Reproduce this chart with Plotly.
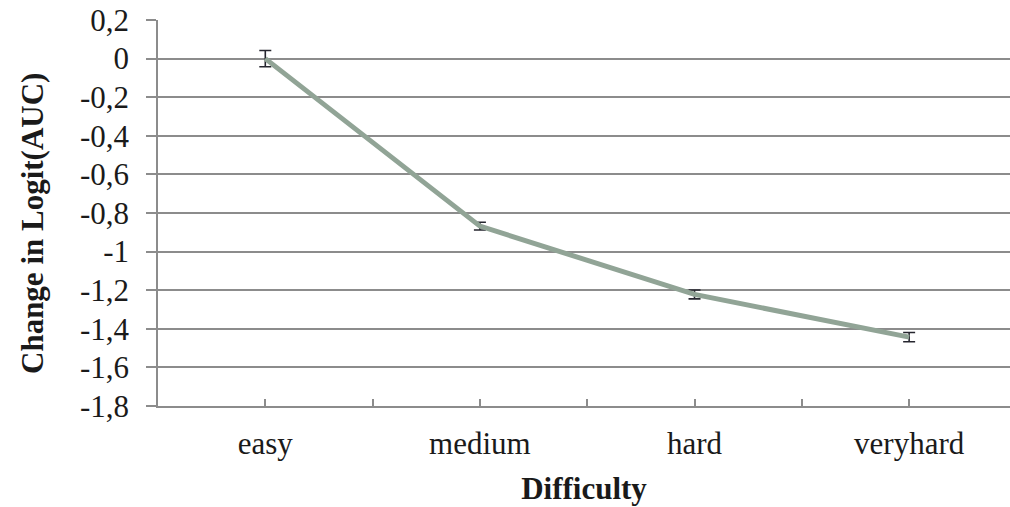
import plotly.graph_objects as go

categories = ["easy", "medium", "hard", "veryhard"]
values = [0.0, -0.868, -1.222, -1.443]
errors = [0.042, 0.02, 0.023, 0.024]
y_ticks = [0.2, 0, -0.2, -0.4, -0.6, -0.8, -1, -1.2, -1.4, -1.6, -1.8]
y_tick_labels = ["0,2", "0", "-0,2", "-0,4", "-0,6", "-0,8", "-1", "-1,2", "-1,4", "-1,6", "-1,8"]

xpos = list(range(len(categories)))
FONT = "Liberation Serif, Times New Roman, serif"
GRID = "#8c8c8c"

fig = go.Figure()
fig.add_trace(go.Scatter(
    x=xpos, y=values, mode="lines",
    line=dict(color="#91A496", width=5),
    error_y=dict(type="data", array=errors, visible=True,
                 color="#26262f", thickness=1.6, width=6),
    showlegend=False,
))

fig.update_layout(
    width=1010, height=507,
    margin=dict(l=158, r=0, t=20, b=101),
    paper_bgcolor="white", plot_bgcolor="white",
    font=dict(family=FONT, size=31, color="#1a1a1a"),
    xaxis=dict(
        range=[-0.5, 3.47],
        tickvals=xpos, ticktext=categories,
        ticks="inside", ticklen=7, tickcolor=GRID, tickwidth=1.5,
        minor=dict(tickvals=[0.5, 1.5, 2.5], ticks="inside", ticklen=7,
                   tickcolor=GRID, tickwidth=1.5, showgrid=False),
        showline=True, linecolor=GRID, linewidth=1.5,
        showgrid=False, zeroline=False,
        title=dict(text="<b>Difficulty</b>", font=dict(family=FONT, size=31), standoff=17),
        ticklabelstandoff=9,
    ),
    yaxis=dict(
        range=[-1.8, 0.2],
        tickvals=y_ticks, ticktext=y_tick_labels,
        ticks="outside", ticklen=10, tickcolor=GRID, tickwidth=1.5,
        showline=True, linecolor=GRID, linewidth=1.5,
        showgrid=True, gridcolor=GRID, gridwidth=1.5,
        zeroline=False,
        ticklabelstandoff=11,
    ),
    annotations=[dict(
        text="<b>Change in Logit(AUC)</b>", textangle=-90,
        xref="paper", yref="paper", x=0, y=0.5,
        xanchor="center", yanchor="middle",
        xshift=-126, yshift=-11, showarrow=False,
        font=dict(family=FONT, size=31, color="#1a1a1a"),
    )],
)

fig.write_html("out.html")
